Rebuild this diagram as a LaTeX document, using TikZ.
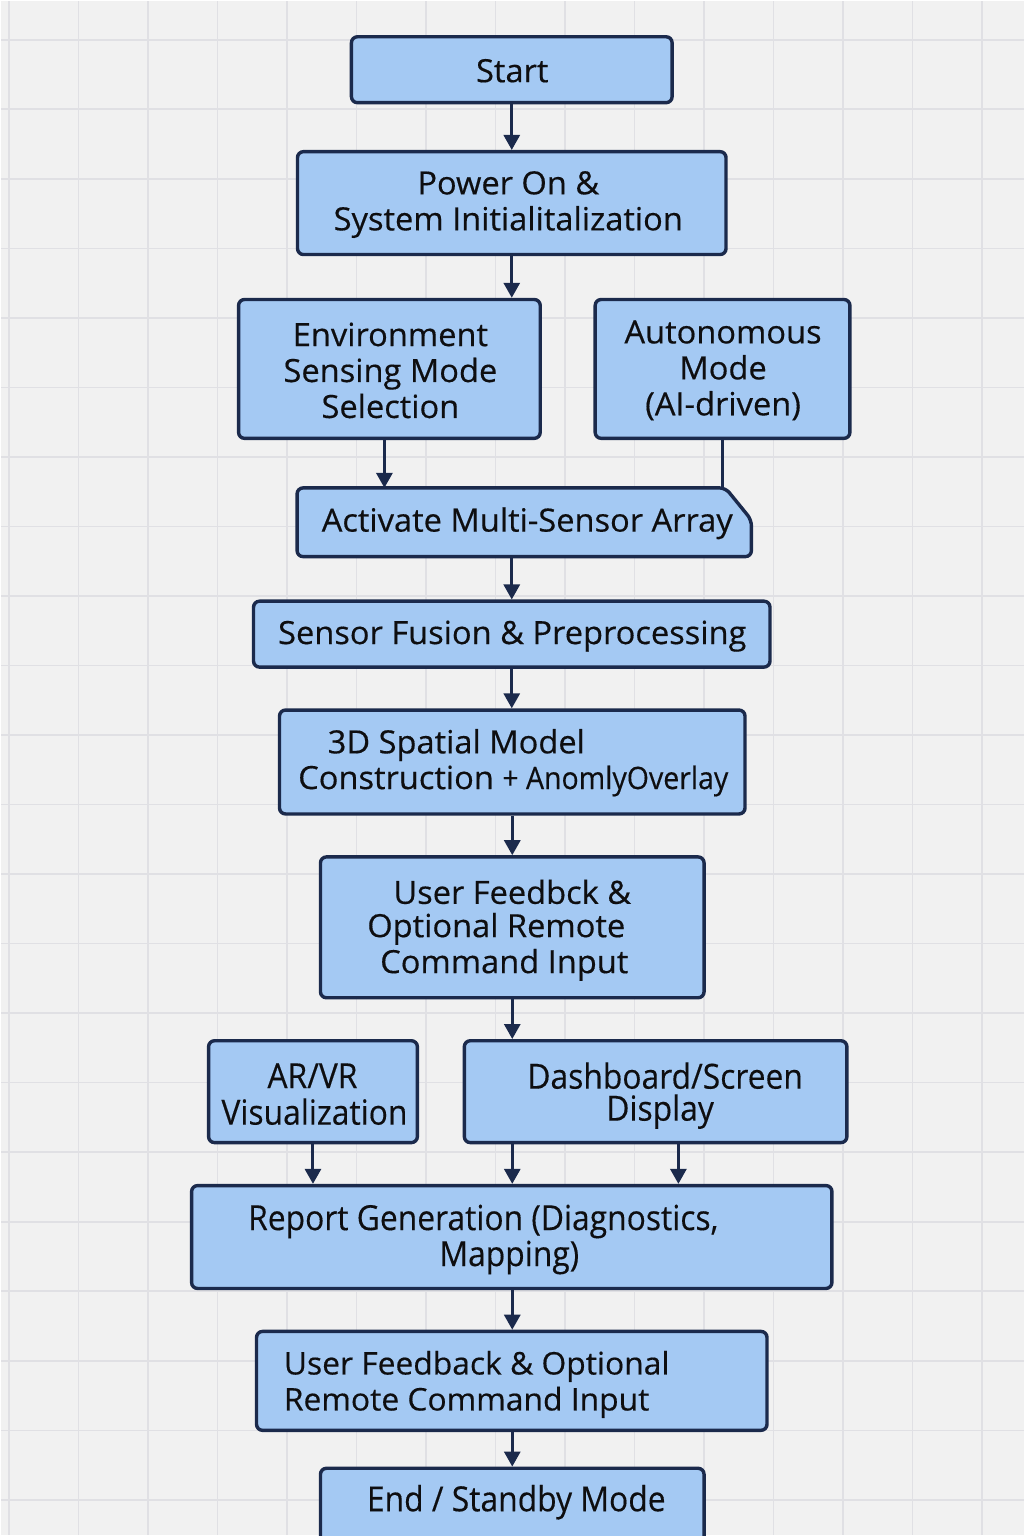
\documentclass[tikz,border=0pt]{standalone}
\usepackage{fontspec}
\setmainfont{Open Sans}[FakeStretch=1.02,FakeBold=0.4]
\newfontfamily\condfont[FakeStretch=0.92,FakeBold=0.3]{Open Sans}
\usetikzlibrary{arrows.meta,fit,calc}
\definecolor{bg}{HTML}{F1F1F1}
\definecolor{gridc}{HTML}{E0E0E4}
\definecolor{boxfill}{HTML}{A4C9F3}
\definecolor{boxline}{HTML}{1B2A4C}
\definecolor{txt}{HTML}{0E0E10}
\begin{document}
\begin{tikzpicture}[x=0.5pt,y=-0.5pt,
 box/.style={draw=boxline, fill=boxfill, line width=1.7pt, rounded corners=3pt, inner sep=0pt},
 lbl/.style={text=txt, font=\fontsize{16}{18}\selectfont, align=center, inner sep=0pt},
 cond/.style={text=txt, font=\condfont\fontsize{17.3}{18}\selectfont, align=center, inner sep=0pt},
 arr/.style={draw=boxline, line width=1.5pt, -{Triangle[width=8pt,length=7.5pt]}},
 link/.style={draw=boxline, line width=1.5pt}]
\fill[bg] (0,0) rectangle (1024,1536);
\foreach \i in {0,...,14} \draw[gridc, line width=0.8pt] ({8+69.6*\i},0) -- ({8+69.6*\i},1536);
\foreach \i in {0,...,21} \draw[gridc, line width=0.8pt] (0,{39+69.6*\i}) -- (1024,{39+69.6*\i});
\useasboundingbox (0,0) rectangle (1024,1536);

% boxes
\node[box, fit={(351,36) (672,102)}] (start) {};
\node[box, fit={(297,151) (726,254)}] (power) {};
\node[box, fit={(238,299) (540,438)}] (env) {};
\node[box, fit={(595,299) (850,438)}] (auto) {};
\node[inner sep=0pt, fit={(297,488) (751,556)}] (act) {};
\draw[box] (act.south west) -- (act.north west) -- ([xshift=-13pt]act.north east) -- ([yshift=-16pt]act.north east) -- (act.south east) -- cycle;
\node[box, fit={(253,601) (770,667)}] (fusion) {};
\node[box, fit={(279,710) (745,814)}] (model) {};
\node[box, fit={(320,857) (704,998)}] (fb1) {};
\node[box, fit={(208,1041) (417,1143)}] (arvr) {};
\node[box, fit={(464,1041) (847,1143)}] (dash) {};
\node[box, fit={(191,1186) (832,1289)}] (report) {};
\node[box, fit={(256,1332) (767,1431)}] (fb2) {};
\node[box, fit={(320,1469) (704,1545)}] (endn) {};

% texts
\node[lbl] (tstart) at (512,70) {Start};
\node[lbl] (tpower) at (508,204) {Power On \&\\System Initialitalization};
\node[lbl] (tenv) at (390,370) {Environment\\Sensing Mode\\Selection};
\node[lbl] (tauto) at (723,370) {Autonomous\\Mode\\(AI-driven)};
\node[lbl] (tact) at (527,523) {Activate Multi-Sensor Array};
\node[lbl] (tfusion) at (512,636) {Sensor Fusion \& Preprocessing};
\node[lbl] (tmodela) at (456,745) {3D Spatial Model};
\node[lbl] (tmodelb) at (513,781) {Construction {\condfont\fontsize{15.5}{18}\selectfont + AnomlyOverlay}};
\node[lbl] (tfb1a) at (512,892) {User Feedbck \&};
\node[lbl] (tfb1b) at (496,929) {Optional Remote};
\node[lbl] (tfb1c) at (504,965) {Command Input};
\node[cond] (tarvra) at (312,1076) {AR/VR};
\node[cond] (tarvrb) at (314,1112) {Visualization};
\node[cond] (tdasha) at (665,1076) {Dashboard/Screen};
\node[cond] (tdashb) at (660,1112) {Display};
\node[cond] (treporta) at (483,1222) {Report Generation (Diagnostics,};
\node[cond] (treportb) at (509,1258) {Mapping)};
\node[lbl, anchor=west, align=left, font=\fontsize{15.6}{18}\selectfont] (tfb2) at (283,1385) {User Feedback \& Optional\\Remote Command Input};
\node[cond] (tend) at (516,1503) {End / Standby Mode};

% connectors
\coordinate (d2) at ($(dash.south west)!0.559!(dash.south east)$);
\draw[arr] (start.south) -- (start.south |- power.north);
\draw[arr] (power.south) -- (power.south |- env.north);
\draw[arr] ([xshift=-2.5pt]env.south) -- ([xshift=-2.5pt]env.south |- act.north);
\draw[link] (auto.south) -- (auto.south |- act.north);
\draw[arr] (act.south -| fusion.north) -- (fusion.north);
\draw[arr] (fusion.south) -- (fusion.south |- model.north);
\draw[arr] (model.south -| fb1.north) -- (fb1.north);
\draw[arr] (fb1.south) -- (fb1.south |- dash.north);
\draw[arr] (arvr.south) -- (arvr.south |- report.north);
\draw[arr] (dash.south -| fb1.south) -- (fb1.south |- report.north);
\draw[arr] (d2) -- (d2 |- report.north);
\draw[arr] (report.south -| fb1.south) -- (fb1.south |- fb2.north);
\draw[arr] (fb2.south -| fb1.south) -- (fb1.south |- endn.north);
\end{tikzpicture}
\end{document}
